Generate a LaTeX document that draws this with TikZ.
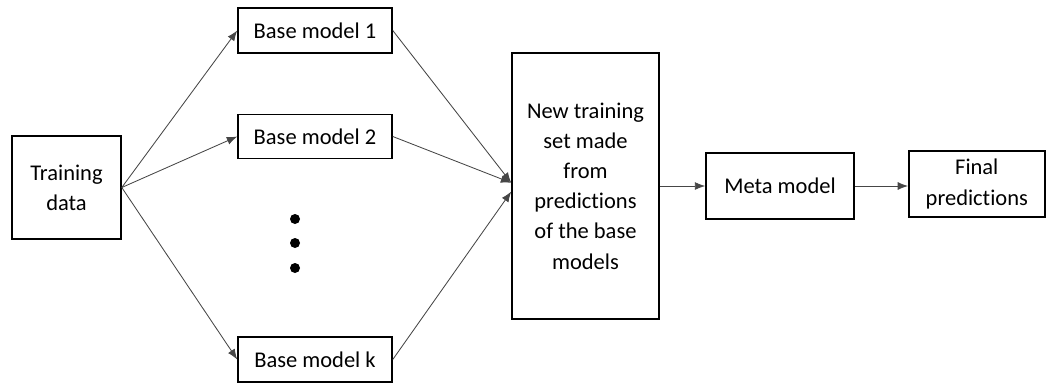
\documentclass[tikz,border=0pt]{standalone}
\usepackage{fontspec}
\setmainfont[Ligatures=NoCommon]{Carlito}
\usetikzlibrary{arrows.meta}

\definecolor{LineColor}{RGB}{70,70,70}

\tikzset{
	box/.style={draw=black, line width=1.1pt, align=center, inner sep=2pt,
		font=\fontsize{16}{21.5}\selectfont},
	link/.style={draw=LineColor, line width=0.6pt, -{Latex[length=0.26cm,width=0.2cm]}},
}

\begin{document}
\begin{tikzpicture}
	\useasboundingbox (0,0) rectangle (26.15,9.575);
	\node [box, minimum width=2.725cm, minimum height=2.575cm] (train) at (1.6625,4.8875) {Training\\data};
	\node [box, minimum width=3.85cm, minimum height=1.125cm] (base1) at (7.875,8.8125) {Base model 1};
	\node [box, minimum width=3.85cm, minimum height=1.1cm] (base2) at (7.875,6.1625) {Base model 2};
	\node [box, minimum width=3.85cm, minimum height=1.125cm] (basek) at (7.875,0.5875) {Base model k};
	\node [box, minimum width=3.675cm, minimum height=6.65cm] (newset) at (14.6375,4.925)
		{New training\\set made\\from\\predictions\\of the base\\models};
	\node [box, minimum width=3.7cm, minimum height=1.65cm] (meta) at (19.5,4.925) {Meta model};
	\node [box, minimum width=3.4cm, minimum height=1.65cm] (final) at (24.42,4.975) {Final\\predictions};

	% dots for the base models left out
	\foreach \y in {4.1,3.5,2.875}
		\fill (7.375,\y) circle (0.125);

	\draw [link] (train.east) -- (base1.west);
	\draw [link] (train.east) -- (base2.west);
	\draw [link] (train.east) -- (basek.west);
	\draw [link] (base1.east) -- ([yshift=0.08cm]newset.west);
	\draw [link] (base2.east) -- ([yshift=0.08cm]newset.west);
	\draw [link] (basek.east) -- ([yshift=-0.14cm]newset.west);
	\draw [link] (newset.east) -- (meta.west);
	\draw [link] (meta.east) -- (final.west |- meta.east);
\end{tikzpicture}
\end{document}
